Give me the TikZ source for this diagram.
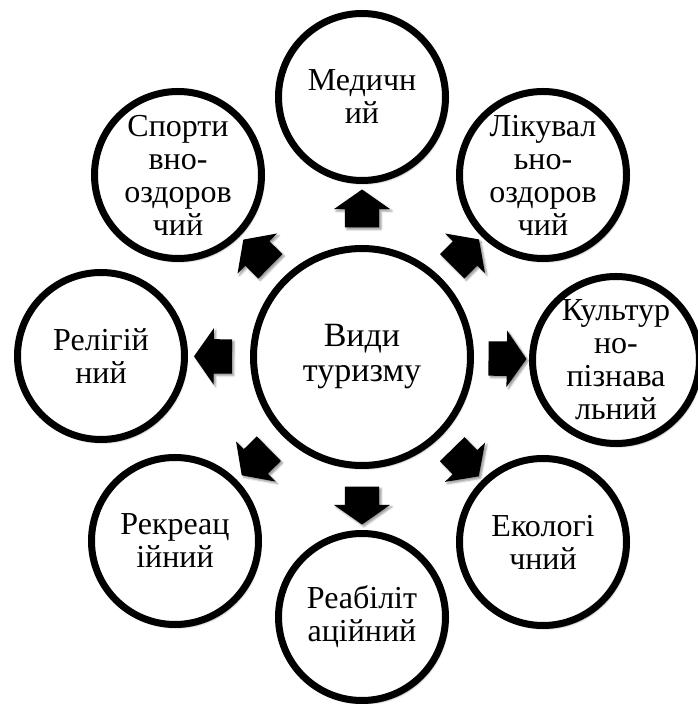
\documentclass[tikz,border=0pt]{standalone}
\usepackage{fontspec}
\setmainfont{Liberation Serif}
\usetikzlibrary{shapes.arrows,shadows.blur}

\tikzset{
  kind/.style={circle, draw=black, line width=7pt, fill=white, minimum size=167pt,
    inner sep=0pt, align=center, font=\fontsize{32}{33}\selectfont,
    blur shadow={shadow xshift=2pt, shadow yshift=-3pt, shadow blur steps=6, shadow opacity=45}},
  hubkind/.style={kind, minimum size=217pt, font=\fontsize{34}{35}\selectfont},
  blockarr/.style={single arrow, fill=black, draw=none, inner xsep=0pt, inner ysep=17pt,
    minimum height=38pt, single arrow head extend=11pt, single arrow tip angle=110,
    sloped, allow upside down,
    blur shadow={shadow xshift=2pt, shadow yshift=-2pt, shadow blur steps=4, shadow opacity=40}}
}

\begin{document}
\begin{tikzpicture}[x=1pt,y=1pt]
\useasboundingbox (0,0) rectangle (697,704);

% centre
\node[hubkind] (hub) at (362,347) {Види\\туризму};

% kinds of tourism
\node[kind] (med)   at (362,607) {Медичн\\ий};
\node[kind] (heal)  at (543,529) {Лікувал\\ьно-\\оздоров\\чий};
\node[kind] (cult)  at (616,344) {Культур\\но-\\пізнава\\льний};
\node[kind] (eco)   at (543,162) {Екологі\\чний};
\node[kind] (rehab) at (362,87)  {Реабіліт\\аційний};
\node[kind] (recr)  at (175,163) {Рекреац\\ійний};
\node[kind] (relig) at (101,348) {Релігій\\ний};
\node[kind] (sport) at (178,529) {Спорти\\вно-\\оздоров\\чий};

% arrows
\path (hub) -- node[blockarr] (toMed) {} (med);
\path (hub) -- node[blockarr] (toHeal) {} (heal);
\path (hub) -- node[blockarr] (toCult) {} (cult);
\path (hub) -- node[blockarr] (toEco) {} (eco);
\path (hub) -- node[blockarr] (toRehab) {} (rehab);
\path (hub) -- node[blockarr] (toRecr) {} (recr);
\path (hub) -- node[blockarr] (toRelig) {} (relig);
\path (hub) -- node[blockarr] (toSport) {} (sport);
\end{tikzpicture}
\end{document}
